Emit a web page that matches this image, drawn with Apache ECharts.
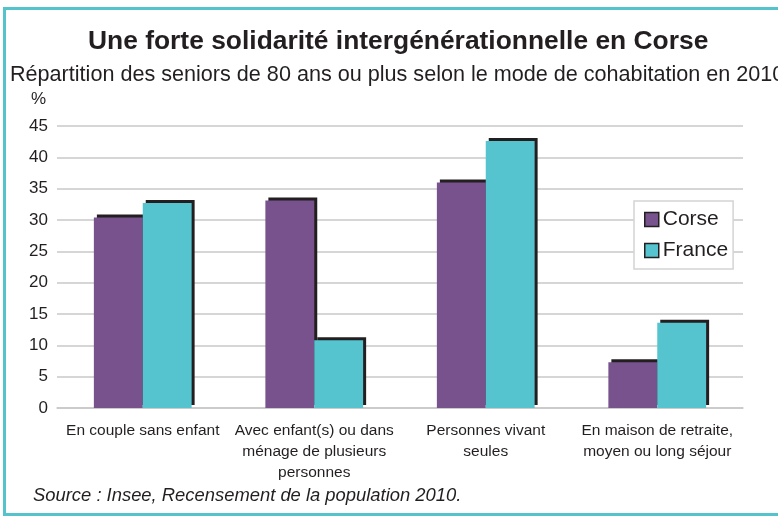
<!DOCTYPE html>
<html>
<head>
<meta charset="utf-8">
<script src="https://cdn.jsdelivr.net/npm/echarts@6/dist/echarts.min.js"></script>
<style>
  html, body { margin: 0; padding: 0; background: #fff; }
  #chart { width: 778px; height: 518px; }
</style>
</head>
<body>
<div id="chart"></div>
<script>
// mode de cohabitation
var categories = [
    'En couple sans enfant',
    'Avec enfant(s) ou dans\nménage de plusieurs\npersonnes',
    'Personnes vivant\nseules',
    'En maison de retraite,\nmoyen ou long séjour'
];
var corse = [30.4, 33.1, 36.0, 7.3];
var france = [32.7, 10.8, 42.6, 13.6];
var yTicks = [0, 45, 5]; // min, max, pas

var txt = '#231f20';
var font = 'Liberation Sans';

var chart = echarts.init(document.getElementById('chart'));

function barStyle(color) {
    return {
        color: color,
        shadowColor: txt,
        shadowBlur: 0,
        shadowOffsetX: 3,
        shadowOffsetY: -3
    };
}

var option = {
    backgroundColor: '#fff',
    animation: false,
    textStyle: { fontFamily: font, color: txt },
    title: [
        {
            text: 'Une forte solidarité intergénérationnelle en Corse',
            left: 83,
            top: 24,
            textStyle: { fontFamily: font, fontSize: 26.4, fontWeight: 'bold', color: txt }
        },
        {
            text: 'Répartition des seniors de 80 ans ou plus selon le mode de cohabitation en 2010',
            left: 5,
            top: 59,
            textStyle: { fontFamily: font, fontSize: 21.6, fontWeight: 'normal', color: txt }
        }
    ],
    graphic: [
        {
            type: 'rect',
            shape: { x: 4.5, y: 8.5, width: 800, height: 506 },
            style: { fill: 'none', stroke: '#55c3cc', lineWidth: 3 },
            silent: true
        },
        {
            type: 'text',
            left: 31, top: 91,
            style: { text: '%', fontFamily: font, fontSize: 17, fill: txt }
        },
        {
            type: 'text',
            left: 33, top: 487,
            style: { text: 'Source : Insee, Recensement de la population 2010.', fontFamily: font, fontSize: 18.4, fontStyle: 'italic', fill: txt }
        }
    ],
    legend: {
        orient: 'vertical',
        left: 634,
        top: 201,
        padding: [8, 5, 8, 10],
        itemGap: 10,
        itemWidth: 14,
        itemHeight: 14,
        borderColor: '#d4d4d4',
        borderWidth: 1.5,
        backgroundColor: '#fff',
        icon: 'rect',
        itemStyle: { borderColor: txt, borderWidth: 1.5, shadowColor: 'transparent', shadowOffsetX: 0, shadowOffsetY: 0 },
        textStyle: { fontFamily: font, fontSize: 21, color: txt, padding: [0, 0, 0, -1] },
        data: ['Corse', 'France']
    },
    grid: { left: 57, right: 35, top: 126, bottom: 110 },
    xAxis: {
        type: 'category',
        data: categories,
        axisTick: { show: false },
        axisLine: { lineStyle: { color: '#c8c8c8', width: 1.5 } },
        axisLabel: { fontFamily: font, fontSize: 15.5, lineHeight: 21, color: txt, margin: 12, interval: 0 }
    },
    yAxis: {
        type: 'value',
        min: yTicks[0],
        max: yTicks[1],
        interval: yTicks[2],
        axisLine: { show: false },
        axisTick: { show: false },
        axisLabel: { fontFamily: font, fontSize: 17, color: txt, margin: 9 },
        splitLine: { lineStyle: { color: '#c8c8c8', width: 1.5 } }
    },
    series: [
        {
            name: 'Corse',
            type: 'bar',
            data: corse,
            barGap: '0%',
            barCategoryGap: '43%',
            itemStyle: barStyle('#77528c')
        },
        {
            name: 'France',
            type: 'bar',
            data: france,
            barGap: '0%',
            barCategoryGap: '43%',
            itemStyle: barStyle('#55c4cf')
        }
    ]
};

chart.setOption(option);
</script>
</body>
</html>
